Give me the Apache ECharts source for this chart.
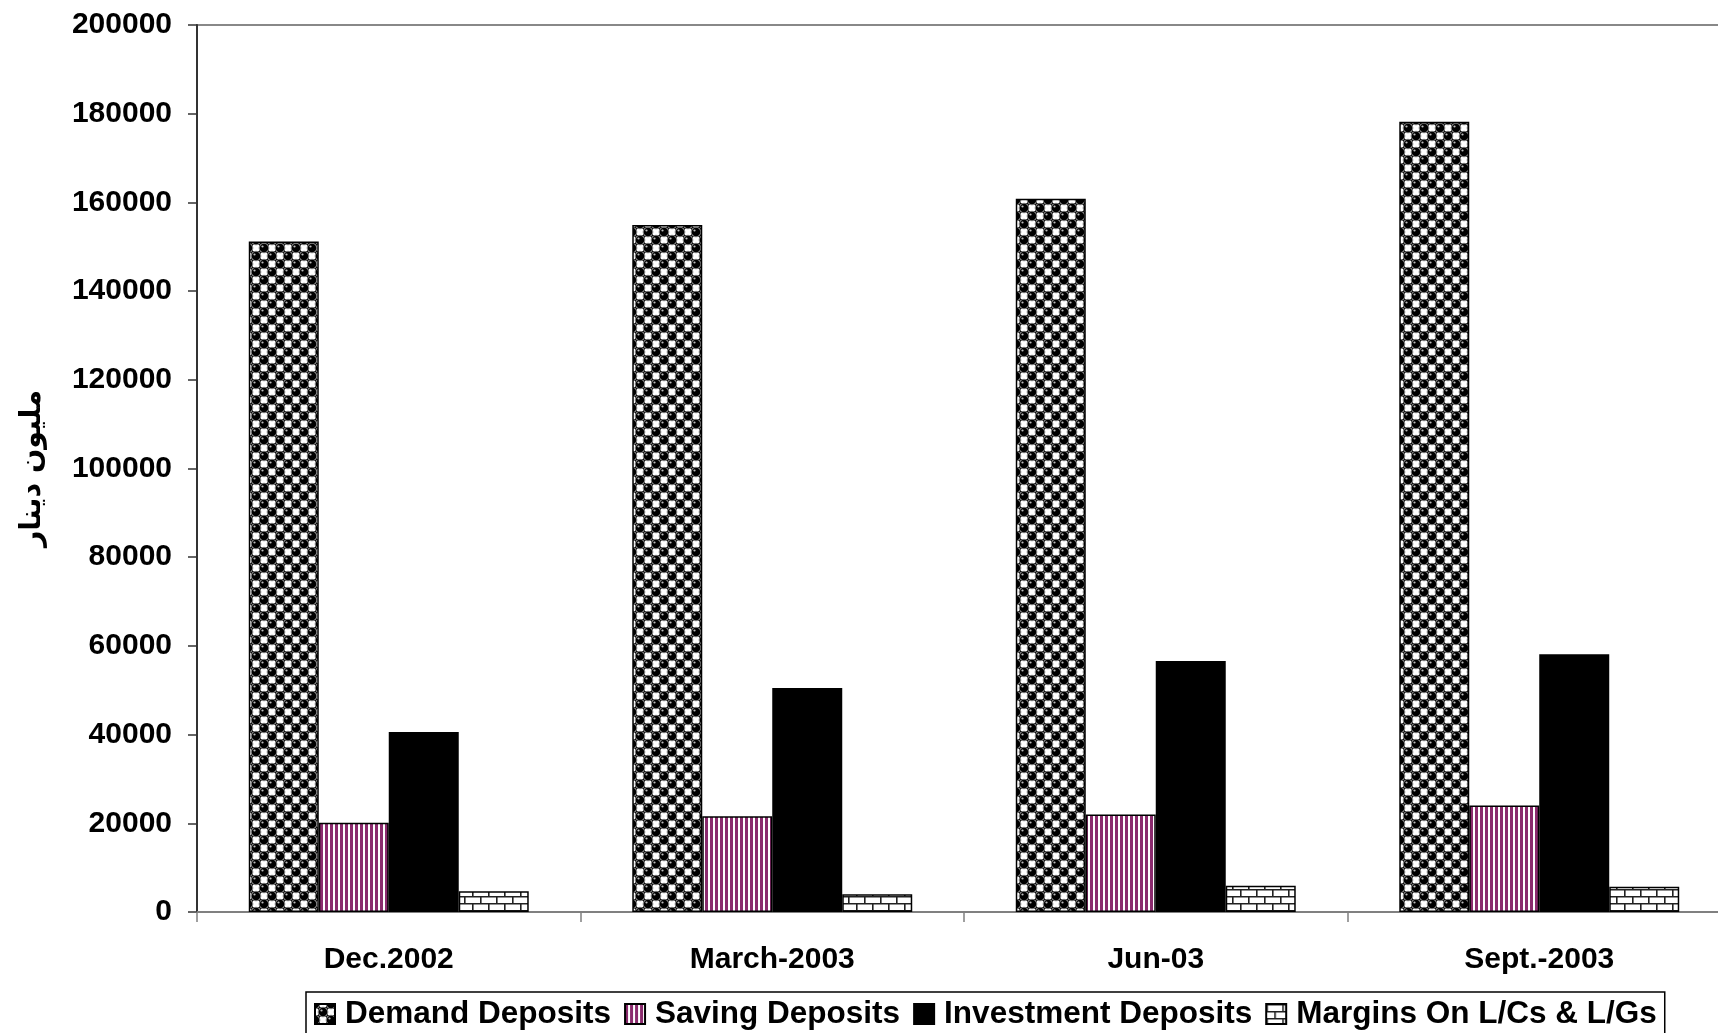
<!DOCTYPE html>
<html>
<head>
<meta charset="utf-8">
<script src="https://cdn.jsdelivr.net/npm/echarts@6/dist/echarts.min.js"></script>
<style>
html,body{margin:0;padding:0;background:#fff;overflow:hidden;width:1718px;height:1033px;}
#chart{width:1731px;height:1033px;}
</style>
</head>
<body>
<div id="chart"></div>
<script>
// ---- data ----
const categories = ['Dec.2002', 'March-2003', 'Jun-03', 'Sept.-2003'];
const demandDeposits = [151200, 154900, 160800, 178200];
const savingDeposits = [20100, 21600, 22000, 24000];
const investmentDeposits = [40600, 50500, 56600, 58100];
const marginsDeposits = [4700, 4000, 5900, 5700];
const seriesNames = ['Demand Deposits', 'Saving Deposits', 'Investment Deposits', 'Margins On L/Cs & L/Gs'];
const yAxisName = 'مليون دينار';

// ---- patterns ----
function makeCanvas(w, h, draw) {
  const c = document.createElement('canvas');
  c.width = w; c.height = h;
  draw(c.getContext('2d'));
  return c;
}
const demandTile = makeCanvas(16, 16, function (ctx) {
  ctx.fillStyle = '#000';
  ctx.fillRect(0, 0, 16, 16);
  ctx.fillStyle = '#fff';
  [[8, 0], [0, 8], [16, 8], [8, 16]].forEach(function (p) {
    ctx.fillRect(p[0] - 3, p[1] - 3, 6, 6);
  });
  [[0, 0], [16, 0], [0, 16], [16, 16], [8, 8]].forEach(function (p) {
    ctx.beginPath();
    ctx.arc(p[0], p[1], 4.8, 0, Math.PI * 2);
    ctx.fillStyle = '#000';
    ctx.fill();
    ctx.lineWidth = 1.1;
    ctx.strokeStyle = '#8a8a8a';
    ctx.stroke();
    ctx.beginPath();
    ctx.arc(p[0] - 1.5, p[1] - 1.5, 1.1, 0, Math.PI * 2);
    ctx.fillStyle = '#bdbdbd';
    ctx.fill();
  });
});
const savingTile = makeCanvas(5, 4, function (ctx) {
  ctx.fillStyle = '#fff';
  ctx.fillRect(0, 0, 5, 4);
  ctx.fillStyle = '#8b2b6e';
  ctx.fillRect(0, 0, 3, 4);
});
const marginTile = makeCanvas(16, 14, function (ctx) {
  ctx.fillStyle = '#fff';
  ctx.fillRect(0, 0, 16, 14);
  ctx.strokeStyle = '#222';
  ctx.lineWidth = 1.6;
  ctx.beginPath();
  ctx.moveTo(0, 0.8); ctx.lineTo(16, 0.8);
  ctx.moveTo(0, 7.8); ctx.lineTo(16, 7.8);
  ctx.moveTo(0.8, 0); ctx.lineTo(0.8, 7.8);
  ctx.moveTo(8.8, 7.8); ctx.lineTo(8.8, 14);
  ctx.stroke();
});

const font = "'Liberation Sans', Arial, 'DejaVu Sans', sans-serif";
const fills = [
  { image: demandTile, repeat: 'repeat' },
  { image: savingTile, repeat: 'repeat' },
  '#000000',
  { image: marginTile, repeat: 'repeat' }
];
const values = [demandDeposits, savingDeposits, investmentDeposits, marginsDeposits];

const chart = echarts.init(document.getElementById('chart'), null, { renderer: 'canvas' });
chart.setOption({
  backgroundColor: '#fff',
  animation: false,
  grid: {
    left: 197, top: 25, right: 0, bottom: 121,
    show: true, borderColor: '#888', borderWidth: 2, containLabel: false
  },
  legend: {
    left: 306, top: 992,
    data: seriesNames,
    icon: 'rect',
    itemWidth: 20, itemHeight: 20, itemGap: 13,
    padding: [6, 8, 5, 8],
    borderColor: '#000', borderWidth: 1.5,
    textStyle: { fontFamily: font, fontWeight: 'bold', fontSize: 31.5, color: '#000', padding: [0, 0, 0, 5] }
  },
  xAxis: {
    type: 'category',
    data: categories,
    axisLine: { lineStyle: { color: '#808080', width: 2 } },
    axisTick: { show: true, length: 10, lineStyle: { color: '#808080', width: 1.5 } },
    axisLabel: { margin: 33, fontFamily: font, fontWeight: 'bold', fontSize: 30, color: '#000' }
  },
  yAxis: {
    type: 'value',
    min: 0, max: 200000, interval: 20000,
    name: yAxisName,
    nameLocation: 'middle',
    nameGap: 150,
    nameTextStyle: { fontFamily: "'DejaVu Sans', sans-serif", fontWeight: 'bold', fontSize: 28.5, color: '#000' },
    axisLine: { show: true, lineStyle: { color: '#333', width: 2 } },
    axisTick: { show: true, length: 9, lineStyle: { color: '#333', width: 1.5 } },
    splitLine: { show: false },
    axisLabel: {
      margin: 25, fontFamily: font, fontWeight: 'bold', fontSize: 30, color: '#000',
      formatter: function (v) { return String(v); }
    }
  },
  series: seriesNames.map(function (name, i) {
    return {
      name: name,
      type: 'bar',
      data: values[i],
      barGap: '0%',
      barCategoryGap: '27%',
      itemStyle: { color: fills[i], borderColor: '#000', borderWidth: 1.5 }
    };
  })
});
</script>
</body>
</html>
